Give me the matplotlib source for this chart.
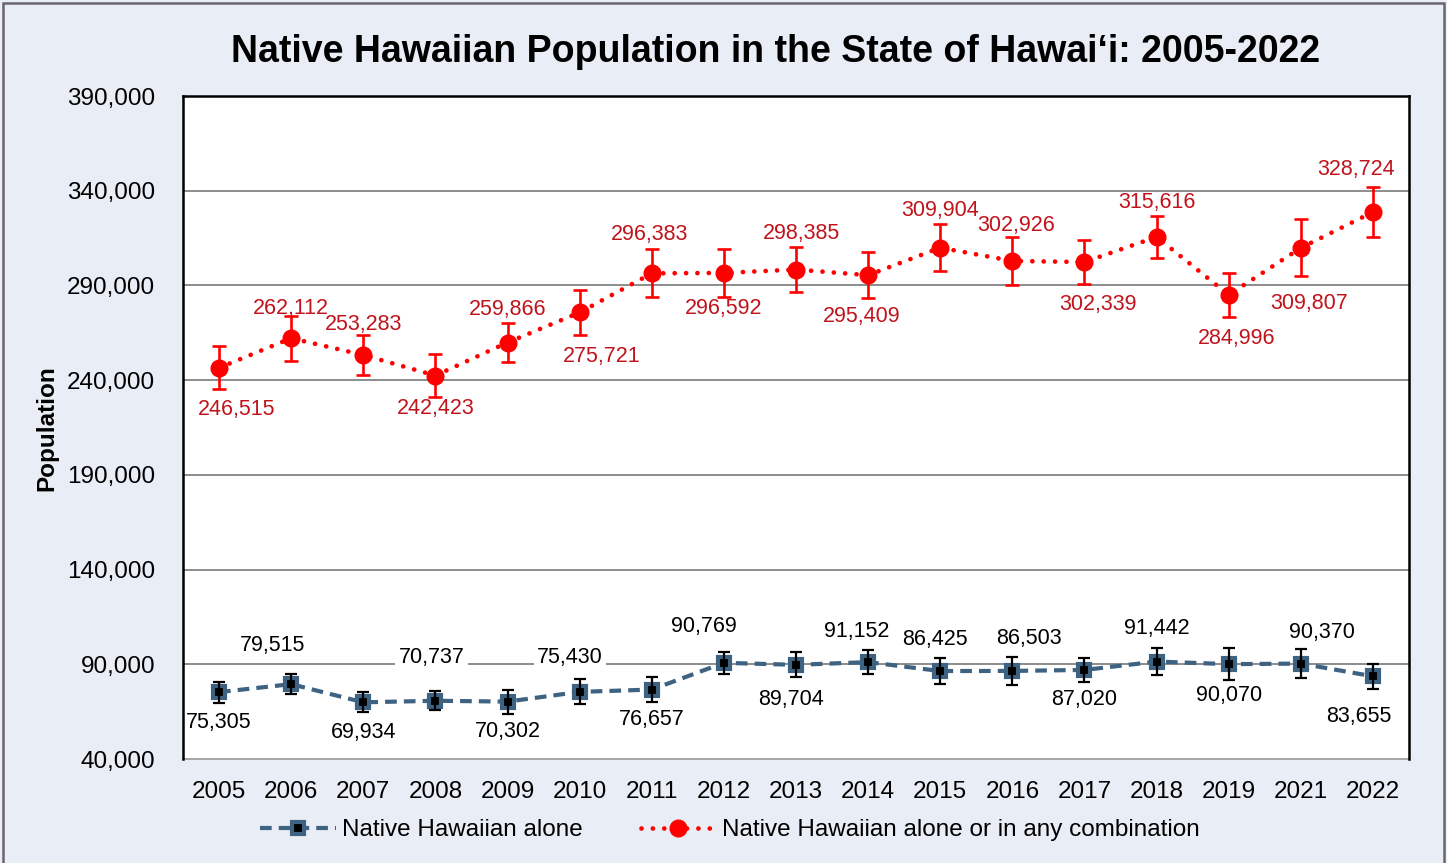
import numpy as np
import matplotlib.pyplot as plt
from matplotlib.patches import Rectangle
from matplotlib.ticker import FuncFormatter

plt.rcParams['font.family'] = ['Liberation Sans', 'DejaVu Sans']

# === Data ===
years = ["2005", "2006", "2007", "2008", "2009", "2010", "2011", "2012", "2013",
         "2014", "2015", "2016", "2017", "2018", "2019", "2021", "2022"]
alone = [75305, 79515, 69934, 70737, 70302, 75430, 76657, 90769, 89704,
         91152, 86425, 86503, 87020, 91442, 90070, 90370, 83655]
alone_err = [5550, 5450, 5300, 5100, 6300, 6600, 6800, 5700, 6600,
             6500, 6800, 7200, 6250, 7050, 8300, 7500, 6600]
combo = [246515, 262112, 253283, 242423, 259866, 275721, 296383, 296592, 298385,
         295409, 309904, 302926, 302339, 315616, 284996, 309807, 328724]
combo_err = [11250, 12000, 10600, 11250, 10400, 12050, 12750, 12500, 12000,
             12150, 12500, 12600, 11450, 11250, 11700, 15000, 13200]

# label placement (pixels): +1 above the point, -1 below
alone_side = [-1, 1, -1, 1, -1, 1, -1, 1, -1, 1, 1, 1, -1, 1, -1, 1, -1]
combo_side = [-1, 1, 1, -1, 1, -1, 1, -1, 1, -1, 1, 1, -1, 1, -1, -1, 1]
alone_off = [30, 39, 30, 43, 30, 34, 30, 36, 35, 31, 32, 32, 30, 33, 31, 31, 40]
combo_off = [42, 30, 30, 33, 33, 44, 39, 36, 36, 41, 37, 35, 42, 34, 44, 56, 43]
alone_dx = [0, -19, 0, -4, 0, -10, 0, -20, -5, -11, -5, 17, 0, 0, 0, 21, -14]
combo_dx = [18, 0, 0, 0, 0, 22, -2, 0, 5, -6, 0, 4, 14, 0, 8, 8, -17]

title = "Native Hawaiian Population in the State of Hawai\u2018i: 2005-2022"
blue = "#3d6282"
red = "#ff0000"
label_red = "#c0141c"
bg = "#e9edf5"

x = np.arange(len(years))

fig = plt.figure(figsize=(14.47, 8.63), dpi=100)
fig.patch.set_facecolor(bg)
fig.patches.append(Rectangle((3 / 1447, -0.02), 1441 / 1447, 1 - 3 / 863 + 0.02,
                             transform=fig.transFigure, fill=False,
                             edgecolor="#6b6570", linewidth=1.8, zorder=0))

ax = fig.add_axes([183 / 1447, 1 - 759 / 863, 1226 / 1447, 663 / 863])
ax.set_facecolor("white")

# lines + markers (legend entries)
ax.plot(x, alone, color=blue, lw=3, dashes=(2.8, 1.7), marker="s", ms=8.5,
        mfc="black", mec=blue, mew=3, label="Native Hawaiian alone", zorder=3)
ax.plot(x, combo, color=red, lw=3.4, linestyle=(0, (0.01, 2.4)),
        dash_capstyle="round", marker="o", ms=12, mfc=red, mec=red,
        label="Native Hawaiian alone or in any combination", zorder=3)

# error bars
ax.errorbar(x, alone, yerr=alone_err, fmt="none", ecolor="black",
            elinewidth=1.6, capsize=4.5, capthick=1.6, zorder=4)
ax.errorbar(x, combo, yerr=combo_err, fmt="none", ecolor=red,
            elinewidth=1.9, capsize=5, capthick=1.9, zorder=4)

# data labels
for i in range(len(years)):
    ax.annotate(f"{alone[i]:,}", (x[i], alone[i]),
                xytext=(alone_dx[i] * 0.72, alone_side[i] * alone_off[i] * 0.72),
                textcoords="offset points", ha="center", va="center",
                fontsize=15.5, color="black", zorder=2,
                bbox=dict(boxstyle="square,pad=0.15", fc="white", ec="none"))
    ax.annotate(f"{combo[i]:,}", (x[i], combo[i]),
                xytext=(combo_dx[i] * 0.72, combo_side[i] * combo_off[i] * 0.72),
                textcoords="offset points", ha="center", va="center",
                fontsize=15.5, color=label_red, zorder=2)

ax.set_xlim(-0.5, len(years) - 0.5)
ax.set_ylim(40000, 390000)
ax.set_yticks(np.arange(40000, 390001, 50000))
ax.yaxis.set_major_formatter(FuncFormatter(lambda v, p: f"{int(v):,}"))
ax.set_xticks(x)
ax.set_xticklabels(years)
ax.tick_params(axis="both", length=0, labelsize=17.5)
ax.tick_params(axis="y", pad=20)
ax.tick_params(axis="x", pad=16)
ax.grid(axis="y", color="#8c8c8c", linewidth=1.4)
ax.set_axisbelow(True)

for side in ["left", "top", "right"]:
    ax.spines[side].set_linewidth(1.8)
    ax.spines[side].set_color("black")
    ax.spines[side].set_zorder(6)
ax.spines["bottom"].set_color("#a6a6a6")
ax.spines["bottom"].set_linewidth(1.4)

fig.text(776 / 1447, 1 - 52 / 863, title, ha="center", va="center",
         fontsize=27, fontweight="bold")
fig.text(47 / 1447, 1 - 428 / 863, "Population", ha="center", va="center",
         rotation=90, fontsize=17.5, fontweight="bold")

fig.legend(loc="center", bbox_to_anchor=(730 / 1447, 1 - 830 / 863), ncol=2,
           frameon=False, fontsize=17.5, handlelength=3.1, handletextpad=0.25,
           columnspacing=2.4)

plt.savefig("out.png", dpi=100, facecolor=bg)
plt.close()
